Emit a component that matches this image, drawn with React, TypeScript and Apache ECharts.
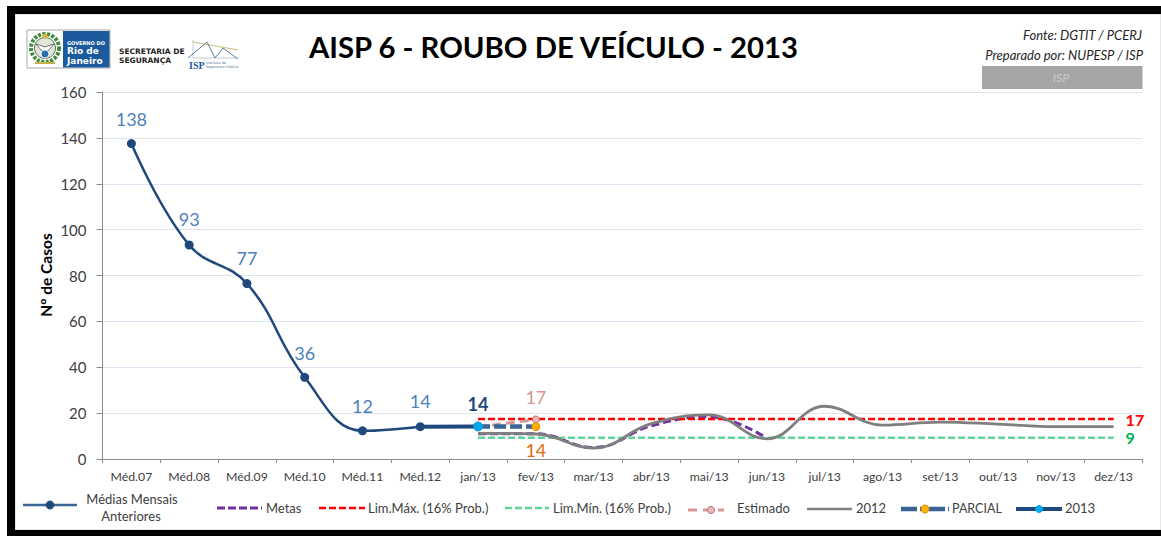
import React, { useEffect, useRef } from "react";
import * as echarts from "echarts";

const categories = ["Méd.07","Méd.08","Méd.09","Méd.10","Méd.11","Méd.12","jan/13","fev/13","mar/13","abr/13","mai/13","jun/13","jul/13","ago/13","set/13","out/13","nov/13","dez/13"];
const n: null = null;
const medias = [137.5, 93.3, 76.5, 35.6, 12.3, 14.1];
const metas = [n,n,n,n,n,n, 11, 11, 5, 14.5, 18.4, 9];
const limMax = [n,n,n,n,n,n, 17.4,17.4,17.4,17.4,17.4,17.4,17.4,17.4,17.4,17.4,17.4,17.4];
const limMin = [n,n,n,n,n,n, 9.3,9.3,9.3,9.3,9.3,9.3,9.3,9.3,9.3,9.3,9.3,9.3];
const estimado = [n,n,n,n,n,n, 14, 17.2];
const ano2012 = [n,n,n,n,n,n, 11.2, 10.9, 4.8, 15.4, 19.2, 8.8, 23, 14.8, 16.1, 15.2, 14.1, 14.1];
const parcial = [n,n,n,n,n,n, 14.2, 14.1];
const ano2013 = [n,n,n,n,n, 14.1, 14.2];
const yTicks = { min: 0, max: 160, interval: 20 };

const FONT = "Lato";
const mediasLabelDistance = [11, 12, 12, 11, 11, 12];

function legendText(text: string, x: number, y: number, align = "left", size = 13) {
  return { type: "text", x, y, style: { text, font: `${size}px ${FONT}`, fill: "#404040", align, verticalAlign: "middle" } };
}
function legendLine(x1: number, x2: number, y: number, stroke: string, lineWidth: number, lineDash?: number[]) {
  return { type: "line", shape: { x1, y1: y, x2, y2: y }, style: { stroke, lineWidth, lineDash } };
}
function legendDot(cx: number, cy: number, r: number, fill: string, stroke: string) {
  return { type: "circle", shape: { cx, cy, r }, style: { fill, stroke, lineWidth: 1 } };
}

export default function App() {
  const ref = useRef<HTMLDivElement>(null);
  useEffect(() => {
    document.body.style.margin = "0";
    const chart = echarts.init(ref.current!, null, { renderer: "svg" });
    const frame = [
      { type: "rect", shape: { x: 15, y: 14, width: 1146, height: 516 }, style: { fill: "#fff", stroke: "#d0d0d0", lineWidth: 1 } },
      { type: "rect", shape: { x: 7, y: 6, width: 1154, height: 8 }, style: { fill: "#000" } },
      { type: "rect", shape: { x: 7, y: 6, width: 8, height: 530 }, style: { fill: "#000" } },
      { type: "rect", shape: { x: 7, y: 530, width: 1154, height: 6 }, style: { fill: "#000" } },
    ];
    const logo = [
      { type: "rect", shape: { x: 27, y: 30, width: 83, height: 38 }, style: { fill: "#fff", stroke: "#a8a8a8", lineWidth: 1 } },
      { type: "rect", shape: { x: 63, y: 31, width: 46.5, height: 36.5 }, style: { fill: "#1b5a9c" } },
      { type: "circle", shape: { cx: 45, cy: 48, r: 14 }, style: { fill: "none", stroke: "#3f8a3c", lineWidth: 4, lineDash: [3, 1.5] } },
      { type: "circle", shape: { cx: 45, cy: 48, r: 10.5 }, style: { fill: "#dfe6d8", stroke: "#5a6d55", lineWidth: 1 } },
      { type: "polygon", shape: { points: [[36, 44], [45, 47], [54, 44], [48, 51], [42, 51]] }, style: { fill: "#ffffff", stroke: "#444", lineWidth: 0.7 } },
      { type: "circle", shape: { cx: 45, cy: 54, r: 4 }, style: { fill: "#2c6ca8", stroke: "#fff", lineWidth: 1 } },
      { type: "circle", shape: { cx: 45, cy: 36, r: 2.5 }, style: { fill: "#d9b23a" } },
      { type: "rect", shape: { x: 35, y: 62, width: 20, height: 2 }, style: { fill: "#c9b04a" } },
      { type: "text", x: 67, y: 42.5, style: { text: "GOVERNO DO", font: "bold 5px 'DejaVu Sans'", fill: "#fff", verticalAlign: "middle" } },
      { type: "text", x: 67, y: 50.5, style: { text: "Rio de", font: "bold 9px 'DejaVu Sans'", fill: "#fff", verticalAlign: "middle" } },
      { type: "text", x: 67, y: 60.5, style: { text: "Janeiro", font: "bold 9px 'DejaVu Sans'", fill: "#fff", verticalAlign: "middle" } },
      { type: "text", x: 119, y: 51, style: { text: "SECRETARIA DE", font: "bold 7.5px 'DejaVu Sans'", fill: "#222", verticalAlign: "middle" } },
      { type: "text", x: 119, y: 60, style: { text: "SEGURANÇA", font: "bold 7.5px 'DejaVu Sans'", fill: "#222", verticalAlign: "middle" } },
      { type: "polyline", shape: { points: [[193, 40], [193, 58], [238, 58]] }, style: { fill: "none", stroke: "#c4ccd4", lineWidth: 1 } },
      { type: "line", shape: { x1: 193, y1: 42, x2: 238, y2: 50 }, style: { stroke: "#cbbd7a", lineWidth: 1 } },
      { type: "polyline", shape: { points: [[188, 58], [207, 42], [215, 58], [223, 48], [238, 59]] }, style: { fill: "none", stroke: "#5d7f9f", lineWidth: 1 } },
      { type: "text", x: 189, y: 65, style: { text: "ISP", font: "bold 10px 'Liberation Serif'", fill: "#1b5a9c", verticalAlign: "middle" } },
      { type: "text", x: 206, y: 62.5, style: { text: "Instituto de", font: "3.5px 'DejaVu Sans'", fill: "#55789a", verticalAlign: "middle" } },
      { type: "text", x: 206, y: 66.5, style: { text: "Segurança Pública", font: "3.5px 'DejaVu Sans'", fill: "#55789a", verticalAlign: "middle" } },
    ];
    const header = [
      { type: "text", x: 553.5, y: 46, style: { text: "AISP 6 - ROUBO DE VEÍCULO - 2013", font: `bold 29.3px ${FONT}`, fill: "#000", align: "center", verticalAlign: "middle" } },
      { type: "text", x: 1142, y: 35, style: { text: "Fonte: DGTIT / PCERJ", font: `italic 13px ${FONT}`, fill: "#262626", align: "right", verticalAlign: "middle" } },
      { type: "text", x: 1143, y: 55, style: { text: "Preparado por: NUPESP / ISP", font: `italic 13px ${FONT}`, fill: "#262626", align: "right", verticalAlign: "middle" } },
      { type: "rect", shape: { x: 982, y: 66, width: 160.5, height: 23 }, style: { fill: "#a6a6a6" } },
      { type: "text", x: 1061, y: 77.5, style: { text: "ISP", font: `italic bold 12px ${FONT}`, fill: "#c4c4c4", align: "center", verticalAlign: "middle" } },
      { type: "text", x: 46, y: 275, rotation: Math.PI / 2, style: { text: "Nº de Casos", font: `bold 15.5px ${FONT}`, fill: "#000", align: "center", verticalAlign: "middle" } },
    ];
    const legend = [
      legendLine(23, 77, 505, "#3a6496", 2.5),
      legendDot(50, 505, 4, "#1f497d", "#1f497d"),
      legendText("Médias Mensais", 132, 499, "center"),
      legendText("Anteriores", 131, 516, "center"),
      legendLine(217, 262, 508, "#7030a0", 3, [8, 3]),
      legendText("Metas", 266, 508),
      legendLine(319, 365, 508, "#ff0000", 2.5, [7, 3]),
      legendText("Lim.Máx. (16% Prob.)", 368, 508),
      legendLine(505, 549, 508, "#5fd39a", 2.5, [7, 3]),
      legendText("Lim.Mín. (16% Prob.)", 553, 508),
      legendLine(688, 724, 510, "#d99694", 3, [9, 6]),
      legendDot(711, 510, 3.5, "#e6b9b8", "#b86a68"),
      legendText("Estimado", 737, 508),
      legendLine(807, 852, 509, "#7f7f7f", 2.5),
      legendText("2012", 856, 508),
      legendLine(901, 949, 509, "#3a6496", 4.5, [16, 3, 6, 3]),
      legendDot(925, 509, 4, "#ffb000", "#e08a00"),
      legendText("PARCIAL", 952, 508, "left", 12.5),
      legendLine(1016, 1062, 509, "#1f497d", 4),
      legendDot(1039, 509, 3.5, "#00a8f0", "#00a8f0"),
      legendText("2013", 1065, 508),
    ];
    const valueLabel = (color: string, extra: object = {}) => ({
      show: true, position: "top", color, fontFamily: FONT, fontSize: 18,
      formatter: (p: any) => String(Math.round(p.value)), ...extra,
    });
    const endLabel = (color: string) => ({
      show: true, distance: 12, color, fontWeight: "bold", fontFamily: FONT, fontSize: 16,
      formatter: (p: any) => String(Math.round(Array.isArray(p.value) ? p.value[1] : p.value)),
    });
    const onlyAt = (arr: (number | null)[], idx: number, label: object) =>
      arr.map((v, i) => (i === idx ? { value: v, label } : { value: v, label: { show: false } }));
    const base = { type: "line", smooth: 0.42, symbol: "none", connectNulls: false };
    chart.setOption({
      animation: false,
      backgroundColor: "#fff",
      textStyle: { fontFamily: FONT },
      graphic: { elements: [...frame, ...logo, ...header, ...legend] },
      grid: { left: 102.5, right: 18.5, top: 92, bottom: 77, containLabel: false },
      xAxis: {
        type: "category", data: categories, boundaryGap: true,
        axisLine: { lineStyle: { color: "#8c8c8c", width: 1 } },
        axisTick: { show: true, alignWithLabel: false, length: 4, lineStyle: { color: "#8c8c8c" } },
        axisLabel: { color: "#404040", fontFamily: FONT, fontSize: 12.3, margin: 11, interval: 0 },
        splitLine: { show: false },
      },
      yAxis: {
        type: "value", ...yTicks,
        axisLine: { show: true, lineStyle: { color: "#8c8c8c", width: 1 } },
        axisTick: { show: true, length: 6, lineStyle: { color: "#8c8c8c" } },
        axisLabel: { color: "#404040", fontFamily: FONT, fontSize: 15, margin: 16 },
        splitLine: { show: true, lineStyle: { color: "#dce6f2", width: 1 } },
      },
      series: [
        {
          ...base, name: "Médias Mensais Anteriores",
          data: medias.map((v, i) => ({ value: v, label: { distance: mediasLabelDistance[i] } })),
          symbol: "circle", symbolSize: 9,
          lineStyle: { color: "#1f497d", width: 2.5 }, itemStyle: { color: "#1f497d" },
          label: valueLabel("#4f81bd"),
        },
        { ...base, name: "Metas", data: metas, z: 3, lineStyle: { color: "#7030a0", width: 3, type: [8, 4] } },
        {
          ...base, name: "Lim.Máx. (16% Prob.)", smooth: false, data: limMax,
          endLabel: endLabel("#ff0000"),
          lineStyle: { color: "#ff0000", width: 2.5, type: [7, 3] },
        },
        {
          ...base, name: "Lim.Mín. (16% Prob.)", smooth: false, data: limMin,
          endLabel: endLabel("#00b050"),
          lineStyle: { color: "#5fd39a", width: 2.5, type: [7, 3] },
        },
        {
          ...base, name: "Estimado", smooth: false,
          data: onlyAt(estimado, 7, valueLabel("#d99694", { distance: 10 })).map((d, i) => (i === 7 ? { ...d, symbol: "circle", symbolSize: 7 } : d)),
          symbol: "none", showSymbol: true,
          lineStyle: { color: "#d99694", width: 3, type: [9, 5] },
          itemStyle: { color: "#e6b9b8", borderColor: "#b86a68", borderWidth: 1 },
        },
        { ...base, name: "2012", data: ano2012, z: 4, lineStyle: { color: "#7f7f7f", width: 2.8 } },
        {
          ...base, name: "PARCIAL", smooth: false, z: 5,
          data: onlyAt(parcial, 7, valueLabel("#e36c09", { position: "bottom", distance: 10 })).map((d, i) => (i === 7 ? { ...d, symbol: "circle", symbolSize: 8 } : d)),
          lineStyle: { color: "#3a6496", width: 4.5, type: [12, 4] },
          itemStyle: { color: "#ffb000", borderColor: "#e08a00", borderWidth: 1 },
        },
        {
          ...base, name: "2013", smooth: false, z: 6,
          data: onlyAt(ano2013, 6, valueLabel("#1f497d", { fontWeight: "bold", distance: 8 })).map((d, i) => (i === 6 ? { ...d, symbol: "circle", symbolSize: 9 } : d)),
          lineStyle: { color: "#1f497d", width: 4 },
          itemStyle: { color: "#00a8f0", borderColor: "#1c8fd0", borderWidth: 1 },
        },
      ],
    });
    return () => chart.dispose();
  }, []);
  return <div ref={ref} style={{ position: "absolute", left: 0, top: 0, width: 1161, height: 536 }} />;
}
